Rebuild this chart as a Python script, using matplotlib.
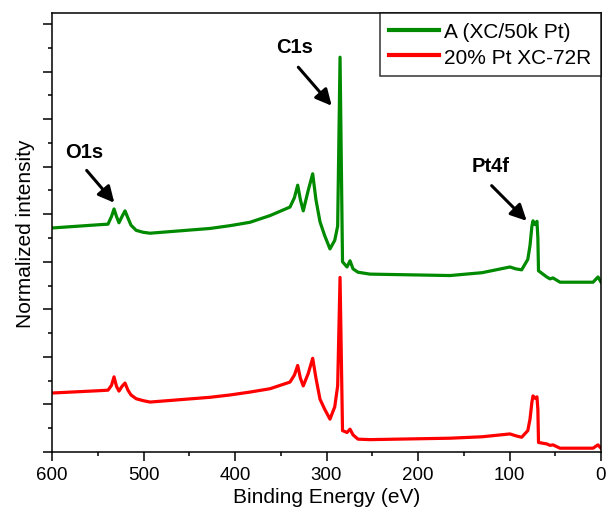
import matplotlib
matplotlib.use("Agg")
import matplotlib.pyplot as plt
from matplotlib.ticker import MultipleLocator, NullFormatter

plt.rcParams['font.family'] = ['Liberation Sans', 'DejaVu Sans']

# --- Data (binding energy in eV, offset intensity) ---
energy = [600.0, 547.5, 538.8, 535.0, 532.2, 529.5, 526.8, 523.5, 520.2, 517.0,
          513.7, 508.0, 500.5, 492.9, 427.3, 405.0, 383.6, 361.8, 339.9, 335.0,
          331.5, 328.5, 325.4, 320.0, 315.1, 311.5, 307.1, 302.0, 296.2, 291.0,
          287.8, 285.2, 282.5, 277.6, 274.3, 271.0, 265.6, 252.5, 165.0, 130.0,
          99.5, 93.0, 86.7, 80.0, 77.6, 75.5, 74.3, 72.1, 70.0, 69.0,
          68.3, 59.3, 55.7, 52.5, 44.8, 8.7, 3.3, 0.0]

sample_a = [4.71, 4.78, 4.79, 4.95, 5.11, 4.95, 4.82, 4.95, 5.07, 4.92,
            4.77, 4.66, 4.62, 4.60, 4.70, 4.76, 4.83, 4.97, 5.15, 5.35,
            5.61, 5.30, 5.07, 5.50, 5.85, 5.30, 4.84, 4.55, 4.27, 4.45,
            4.75, 8.30, 4.00, 3.89, 4.02, 3.85, 3.78, 3.74, 3.71, 3.77,
            3.89, 3.85, 3.83, 4.05, 4.34, 4.75, 4.86, 4.78, 4.85, 4.50,
            3.81, 3.68, 3.64, 3.66, 3.57, 3.57, 3.68, 3.57]

pt_xc72r = [1.24, 1.29, 1.30, 1.40, 1.58, 1.38, 1.28, 1.38, 1.45, 1.30,
            1.20, 1.12, 1.08, 1.05, 1.15, 1.20, 1.26, 1.33, 1.47, 1.62,
            1.82, 1.55, 1.39, 1.65, 1.97, 1.55, 1.11, 0.90, 0.69, 0.95,
            1.39, 3.67, 0.45, 0.41, 0.48, 0.36, 0.27, 0.26, 0.29, 0.32,
            0.38, 0.34, 0.31, 0.45, 0.69, 1.05, 1.18, 1.13, 1.16, 0.90,
            0.20, 0.17, 0.14, 0.15, 0.08, 0.08, 0.15, 0.08]

labels = ['A (XC/50k Pt)', '20% Pt XC-72R']
colors = ['#008a00', '#ff0000']

# peak labels: text, text position, arrow start, arrow tip
peaks = [
    ('O1s', (565.0, 6.31), (562.1, 5.92), (531.9, 5.24)),
    ('C1s', (334.4, 8.52), (330.8, 8.09), (294.3, 7.28)),
    ('Pt4f', (120.2, 6.02), (119.5, 5.60), (81.2, 4.86)),
]

fig = plt.figure(figsize=(6.06, 5.10), dpi=100)
ax = fig.add_axes([52 / 606, 57 / 510, 549 / 606, 439 / 510])

ax.plot(energy, sample_a, color=colors[0], lw=2.3, label=labels[0])
ax.plot(energy, pt_xc72r, color=colors[1], lw=2.3, label=labels[1])

for name, txt, start, tip in peaks:
    ax.text(txt[0], txt[1], name, fontsize=14.5, fontweight='bold',
            ha='center', va='center')
    ax.annotate('', xy=tip, xytext=start,
                arrowprops=dict(arrowstyle='-|>', color='black', lw=2.2,
                                mutation_scale=24, shrinkA=0, shrinkB=0))

ax.set_xlim(600, 0)
ax.set_ylim(0, 9.23)

ax.xaxis.set_major_locator(MultipleLocator(100))
ax.xaxis.set_minor_locator(MultipleLocator(50))
ax.yaxis.set_major_locator(MultipleLocator(1))
ax.yaxis.set_minor_locator(MultipleLocator(0.5))
ax.yaxis.set_major_formatter(NullFormatter())

ax.tick_params(which='both', direction='out', width=1.1, top=False, right=False)
ax.tick_params(which='major', length=6.5, labelsize=13.5)
ax.tick_params(which='minor', length=3)
for sp in ax.spines.values():
    sp.set_linewidth(1.1)

ax.set_xlabel('Binding Energy (eV)', fontsize=15, labelpad=3)
ax.set_ylabel('Normalized intensity', fontsize=15, labelpad=2)

leg = ax.legend(loc='upper right', fontsize=15, frameon=True, fancybox=False,
                edgecolor='black', borderaxespad=0, handlelength=2.4,
                handletextpad=0.25, labelspacing=0.3, borderpad=0.45)
leg.get_frame().set_linewidth(1.1)
for line in leg.get_lines():
    line.set_linewidth(3)

fig.savefig('out.png', dpi=100)
